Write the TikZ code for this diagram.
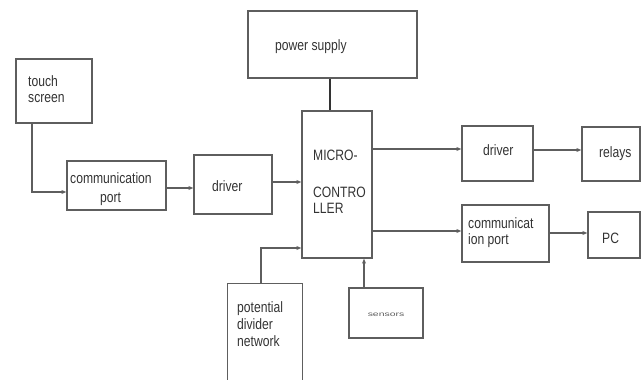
\documentclass[tikz,border=0pt]{standalone}
\usepackage{fontspec}
\setmainfont{Liberation Sans}
\usetikzlibrary{arrows.meta}
\definecolor{ln}{HTML}{5E5E5E}
\definecolor{tx}{HTML}{333333}
\newcommand{\stretchtxt}[1]{\scalebox{0.97}[1.2]{#1}}
\tikzset{
  box/.style={draw=ln, line width=1.3pt, rectangle, inner sep=0pt},
  openbox/.style={rectangle, inner sep=0pt},
  arr/.style={draw=ln, line width=1.1pt, -{Stealth[length=5pt,width=4pt]}},
  thick line/.style={draw=black!80, line width=2.6pt},
  lbl/.style={anchor=base west, inner sep=0pt, text=tx, font=\fontsize{12.5}{17}\selectfont},
}
\begin{document}
\begin{tikzpicture}[x=1pt,y=-1pt]
\useasboundingbox (0,0) rectangle (643,380);
% boxes
\node[box, minimum width=76pt, minimum height=64pt] (ts) at (54,91) {};
\node[box, minimum width=99pt, minimum height=49pt] (cp1) at (116.5,185.5) {};
\node[box, minimum width=78pt, minimum height=59pt] (dr1) at (233,184.5) {};
\node[box, minimum width=169pt, minimum height=67pt] (ps) at (332.5,44.5) {};
\node[box, minimum width=70pt, minimum height=147pt] (mcu) at (337,184.5) {};
\node[box, minimum width=71pt, minimum height=55pt] (dr2) at (497.5,153.5) {};
\node[box, minimum width=58pt, minimum height=54pt] (rel) at (611,154) {};
\node[box, minimum width=87pt, minimum height=57pt] (cp2) at (505.5,233.5) {};
\node[box, minimum width=52pt, minimum height=46pt] (pc) at (614,235) {};
\node[openbox, minimum width=74pt, minimum height=96pt] (pdn) at (265,332) {};
\draw[draw=ln, line width=1.3pt] (pdn.south west) -- (pdn.north west) -- (pdn.north east) -- (pdn.south east);
\node[box, minimum width=74pt, minimum height=50pt] (sen) at (386,313) {};
% texts
\node[lbl] (t1) at (28,86) {\stretchtxt{touch}};
\node[lbl] (t2) at (28,102) {\stretchtxt{screen}};
\node[lbl] (t3) at (70,183) {\stretchtxt{communication}};
\node[lbl] (t4) at (100,202) {\stretchtxt{port}};
\node[lbl] (t5) at (212,191) {\stretchtxt{driver}};
\node[lbl] (t6) at (275,50) {\stretchtxt{power supply}};
\node[lbl] (t7) at (313,160) {\stretchtxt{MICRO-}};
\node[lbl] (t8) at (313,197) {\stretchtxt{CONTRO}};
\node[lbl] (t9) at (313,213) {\stretchtxt{LLER}};
\node[lbl] (t10) at (483,155) {\stretchtxt{driver}};
\node[lbl] (t11) at (599,157) {\stretchtxt{relays}};
\node[lbl] (t12) at (468,228) {\stretchtxt{communicat}};
\node[lbl] (t13) at (468,244) {\stretchtxt{ion port}};
\node[lbl] (t14) at (602,243) {\stretchtxt{PC}};
\node[lbl] (t15) at (237,312) {\stretchtxt{potential}};
\node[lbl] (t16) at (237,329) {\stretchtxt{divider}};
\node[lbl] (t17) at (237,346) {\stretchtxt{network}};
\node[anchor=base, inner sep=0pt, text=tx!80] (t18) at (386,316) {\scalebox{1.6}[1]{\fontsize{6.5}{7}\selectfont sensors}};
% connectors
\draw[arr] (ts.south west -| 32,0) |- (cp1.west |- 0,192);
\draw[arr] (cp1.east |- 0,188) -- (dr1.west |- 0,188);
\draw[arr] (dr1.east |- 0,182) -- (mcu.west |- 0,182);
\draw[arr] (mcu.east |- 0,149) -- (dr2.west |- 0,149);
\draw[arr] (dr2.east |- 0,150) -- (rel.west |- 0,150);
\draw[arr] (mcu.east |- 0,231) -- (cp2.west |- 0,231);
\draw[arr] (cp2.east |- 0,233) -- (pc.west |- 0,233);
\draw[arr] (pdn.north -| 261,0) |- (mcu.west |- 0,248);
\draw[arr] (sen.north -| 364,0) -- (mcu.south -| 364,0);
\draw[thick line] (ps.south -| 330,0) -- (mcu.north -| 330,0);
\end{tikzpicture}
\end{document}
